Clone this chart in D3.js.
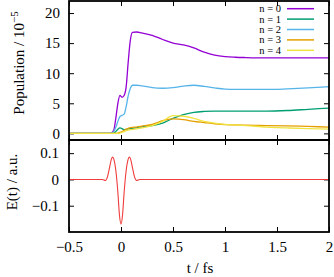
<!DOCTYPE html>
<html>
<head>
<meta charset="utf-8">
<script src="https://cdn.jsdelivr.net/npm/d3@7"></script>
</head>
<body style="margin:0">
<script>
// populations, units of 1e-5
var time = [-0.5, -0.1, -0.07, -0.05, -0.03, -0.01, 0.01, 0.03, 0.05, 0.07, 0.09, 0.11, 0.15, 0.2, 0.3, 0.4, 0.5, 0.6, 0.7, 0.8, 0.9, 1.0, 1.1, 1.2, 1.4, 1.6, 1.8, 2.0]
var pop0 = [0, 0, 0.5, 2.5, 5.0, 6.3, 6.0, 6.3, 7.8, 12.0, 15.5, 16.8, 16.85, 16.7, 16.3, 15.6, 15.0, 14.7, 14.2, 13.5, 13.0, 12.75, 12.65, 12.6, 12.55, 12.55, 12.55, 12.55]
var pop1 = [0, 0, 0.05, 0.3, 0.7, 0.9, 0.8, 0.6, 0.65, 0.75, 0.8, 0.85, 0.95, 1.1, 1.3, 1.7, 2.5, 3.1, 3.5, 3.65, 3.7, 3.7, 3.7, 3.7, 3.7, 3.8, 4.0, 4.2]
var pop2 = [0, 0, 0.3, 1.0, 2.0, 2.8, 3.0, 3.2, 4.5, 6.3, 7.5, 8.0, 8.0, 7.9, 7.6, 7.5, 7.6, 7.85, 8.0, 7.8, 7.55, 7.35, 7.3, 7.3, 7.3, 7.4, 7.55, 7.75]
var pop3 = [0, 0, 0, 0, 0.05, 0.15, 0.3, 0.5, 0.7, 0.85, 0.95, 1.0, 1.05, 1.2, 1.5, 2.1, 2.4, 2.3, 2.0, 1.8, 1.6, 1.45, 1.4, 1.35, 1.3, 1.25, 1.15, 1.05]
var pop4 = [0, 0, 0, 0, 0, 0.05, 0.15, 0.3, 0.45, 0.55, 0.62, 0.68, 0.75, 0.9, 1.3, 2.0, 2.95, 2.85, 2.5, 2.0, 1.7, 1.5, 1.4, 1.3, 1.05, 0.9, 0.78, 0.7]
var names = ["n = 0", "n = 1", "n = 2", "n = 3", "n = 4"]
var colors = ["#9400d3", "#009e73", "#56b4e9", "#e69f00", "#f0e442"]

// laser field
var fieldTime = [-0.5, -0.18, -0.15, -0.13, -0.11, -0.09, -0.08, -0.07, -0.05, -0.03, -0.015, 0, 0.015, 0.03, 0.05, 0.07, 0.08, 0.09, 0.11, 0.13, 0.15, 0.18, 2]
var field = [0, 0, -0.004, 0.01, 0.045, 0.08, 0.085, 0.078, 0.035, -0.05, -0.135, -0.17, -0.135, -0.05, 0.035, 0.078, 0.085, 0.08, 0.045, 0.01, -0.004, 0, 0]

var xTicks = [-0.5, 0, 0.5, 1, 1.5, 2]
var popTicks = [0, 5, 10, 15, 20]
var fieldTicks = [-0.1, 0, 0.1]

var pLeft = 69, pRight = 329, pTop = 1, pMid = 140, pBottom = 232
var serif = "'Liberation Serif'"

var svg = d3.select("body")
    .append("svg")
    .attr("width", 334)
    .attr("height", 277)

var x = d3.scaleLinear().domain([-0.5, 2]).range([pLeft, pRight])
var yPop = d3.scaleLinear().domain([-1.1, 22]).range([pMid, pTop])
var yField = d3.scaleLinear().domain([-0.2, 0.15]).range([pBottom, pMid])

var fmt = function (d) { return d3.format("")(d).replace("-", "\u2212") }

function styleAxis(g) {
    g.attr("font-family", null).attr("font-size", null)
    g.select(".domain").remove()
    g.selectAll(".tick line").attr("stroke", "#000").attr("stroke-width", 1)
    g.selectAll("text").attr("font-size", 15).attr("fill", "#000")
        .style("font-family", serif)
}

// top panel axes
svg.append("g").attr("transform", "translate(" + pLeft + ",0)")
    .call(d3.axisLeft(yPop).tickValues(popTicks).tickSize(-5).tickPadding(9).tickFormat(fmt))
    .call(styleAxis)
svg.append("g").attr("transform", "translate(" + pRight + ",0)")
    .call(d3.axisRight(yPop).tickValues(popTicks).tickSize(-5).tickFormat(""))
    .call(styleAxis)
svg.append("g").attr("transform", "translate(0," + pTop + ")")
    .call(d3.axisTop(x).tickValues(xTicks).tickSize(-5).tickFormat(""))
    .call(styleAxis)
svg.append("g").attr("transform", "translate(0," + pMid + ")")
    .call(d3.axisBottom(x).tickValues(xTicks).tickSize(-5).tickFormat(""))
    .call(styleAxis)

// bottom panel axes
svg.append("g").attr("transform", "translate(" + pLeft + ",0)")
    .call(d3.axisLeft(yField).tickValues(fieldTicks).tickSize(-5).tickPadding(10).tickFormat(fmt))
    .call(styleAxis)
svg.append("g").attr("transform", "translate(" + pRight + ",0)")
    .call(d3.axisRight(yField).tickValues(fieldTicks).tickSize(-5).tickFormat(""))
    .call(styleAxis)
svg.append("g").attr("transform", "translate(0," + pMid + ")")
    .call(d3.axisTop(x).tickValues(xTicks).tickSize(-5).tickFormat(""))
    .call(styleAxis)
svg.append("g").attr("transform", "translate(0," + pBottom + ")")
    .call(d3.axisBottom(x).tickValues(xTicks).tickSize(-5).tickPadding(9).tickFormat(fmt))
    .call(styleAxis)

// curves
var pops = [pop0, pop1, pop2, pop3, pop4]
var popLine = d3.line()
    .x(function (d) { return x(d[0]) })
    .y(function (d) { return yPop(d[1]) })
    .curve(d3.curveMonotoneX)

pops.forEach(function (p, i) {
    svg.append("path")
        .datum(time.map(function (t, j) { return [t, p[j]] }))
        .attr("d", popLine)
        .attr("fill", "none")
        .attr("stroke", colors[i])
        .attr("stroke-width", 1.3)
})

var fieldLine = d3.line()
    .x(function (d) { return x(d[0]) })
    .y(function (d) { return yField(d[1]) })
    .curve(d3.curveMonotoneX)

svg.append("path")
    .datum(fieldTime.map(function (t, j) { return [t, field[j]] }))
    .attr("d", fieldLine)
    .attr("fill", "none")
    .attr("stroke", "#f03c3c")
    .attr("stroke-width", 1.1)

// legend
names.forEach(function (n, i) {
    var ly = 8.7 + i * 10.4
    svg.append("text")
        .attr("x", 281).attr("y", ly + 3.5)
        .attr("text-anchor", "end")
        .attr("font-size", 10.5)
        .style("font-family", serif)
        .text(n)
    svg.append("line")
        .attr("x1", 287).attr("x2", 314)
        .attr("y1", ly).attr("y2", ly)
        .attr("stroke", colors[i])
        .attr("stroke-width", 1.5)
})

// frames
svg.append("rect").attr("x", pLeft).attr("y", pTop).attr("width", pRight - pLeft).attr("height", pMid - pTop)
    .attr("fill", "none").attr("stroke", "#000").attr("stroke-width", 1.8)
svg.append("rect").attr("x", pLeft).attr("y", pMid).attr("width", pRight - pLeft).attr("height", pBottom - pMid)
    .attr("fill", "none").attr("stroke", "#000").attr("stroke-width", 1.8)

// axis titles
var yl = svg.append("text")
    .attr("transform", "translate(24,63) rotate(-90)")
    .attr("text-anchor", "middle")
    .attr("font-size", 15)
    .style("font-family", serif)
yl.append("tspan").text("Population / 10")
yl.append("tspan").attr("dy", -6).attr("font-size", 11).text("\u22125")

svg.append("text")
    .attr("transform", "translate(17,182) rotate(-90)")
    .attr("text-anchor", "middle")
    .attr("font-size", 15)
    .style("font-family", serif)
    .text("E(t) / a.u.")

svg.append("text")
    .attr("x", 200).attr("y", 273)
    .attr("text-anchor", "middle")
    .attr("font-size", 15)
    .style("font-family", serif)
    .text("t / fs")
</script>
</body>
</html>
